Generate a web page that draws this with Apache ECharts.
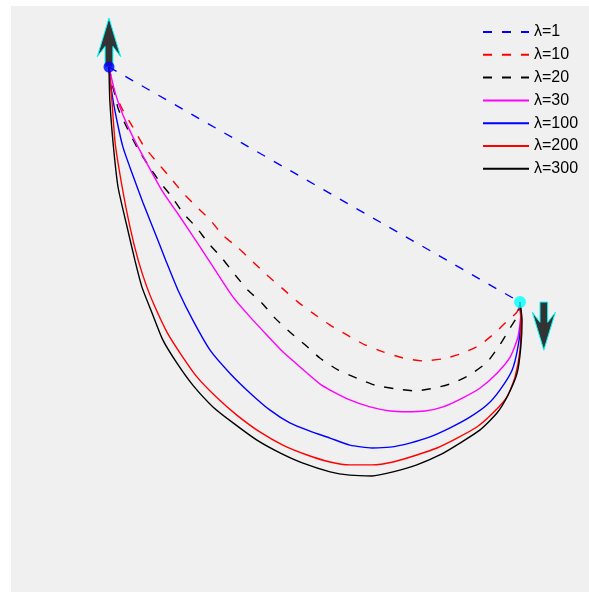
<!DOCTYPE html>
<html>
<head>
<meta charset="utf-8">
<script src="https://cdn.jsdelivr.net/npm/echarts@6/dist/echarts.min.js"></script>
<style>
  html, body { margin: 0; padding: 0; background: #ffffff; }
  #chart { width: 589px; height: 592px; }
</style>
</head>
<body>
<div id="chart"></div>
<script>
// Trajectories from the start point (0,0) to the end point (1,-0.572) for several weights λ.
const lambdaLabels = ['λ=1', 'λ=10', 'λ=20', 'λ=30', 'λ=100', 'λ=200', 'λ=300'];

const startPoint = [0, 0];
const endPoint = [1, -0.572];

const path1 = [[0, 0], [1, -0.572]];

const path10 = [[0, 0], [0.010, -0.052], [0.031, -0.100], [0.058, -0.146], [0.083, -0.190], [0.112, -0.226],
  [0.144, -0.263], [0.178, -0.304], [0.209, -0.336], [0.246, -0.372], [0.277, -0.409], [0.314, -0.440],
  [0.350, -0.474], [0.384, -0.506], [0.421, -0.538], [0.460, -0.572], [0.496, -0.599], [0.538, -0.628],
  [0.579, -0.652], [0.623, -0.676], [0.667, -0.693], [0.715, -0.708], [0.764, -0.715], [0.813, -0.710],
  [0.861, -0.696], [0.903, -0.676], [0.939, -0.647], [0.971, -0.616], [0.993, -0.596], [1, -0.572]];

const path20 = [[0, 0], [0.022, -0.100], [0.044, -0.148], [0.068, -0.195], [0.095, -0.238], [0.124, -0.280],
  [0.153, -0.316], [0.180, -0.355], [0.214, -0.392], [0.241, -0.428], [0.275, -0.465], [0.307, -0.506],
  [0.338, -0.543], [0.372, -0.574], [0.404, -0.611], [0.440, -0.645], [0.477, -0.676], [0.513, -0.708],
  [0.557, -0.737], [0.603, -0.757], [0.647, -0.774], [0.696, -0.783], [0.745, -0.788], [0.793, -0.781],
  [0.837, -0.769], [0.878, -0.749], [0.920, -0.718], [0.951, -0.676], [0.976, -0.635], [0.995, -0.603], [1, -0.572]];

const path30 = [[0, 0], [0.015, -0.063], [0.034, -0.117], [0.058, -0.170], [0.092, -0.234], [0.131, -0.304],
  [0.173, -0.365], [0.214, -0.426], [0.255, -0.489], [0.302, -0.560], [0.343, -0.608], [0.384, -0.652],
  [0.423, -0.693], [0.465, -0.730], [0.513, -0.771], [0.538, -0.786], [0.586, -0.810], [0.635, -0.827],
  [0.684, -0.837], [0.725, -0.839], [0.769, -0.837], [0.813, -0.827], [0.861, -0.805], [0.903, -0.781],
  [0.944, -0.745], [0.976, -0.706], [0.995, -0.657], [1.002, -0.599], [1, -0.572]];

const path100 = [[0, 0], [0.007, -0.063], [0.019, -0.129], [0.034, -0.195], [0.056, -0.258], [0.083, -0.331],
  [0.112, -0.404], [0.138, -0.470], [0.168, -0.543], [0.204, -0.616], [0.246, -0.689], [0.294, -0.745],
  [0.343, -0.793], [0.392, -0.835], [0.440, -0.866], [0.489, -0.886], [0.538, -0.903], [0.586, -0.920],
  [0.640, -0.927], [0.684, -0.925], [0.732, -0.915], [0.781, -0.900], [0.830, -0.878], [0.878, -0.852],
  [0.920, -0.822], [0.951, -0.786], [0.981, -0.737], [0.995, -0.681], [1.002, -0.616], [1, -0.572]];

const path200 = [[0, 0], [0.007, -0.080], [0.015, -0.185], [0.032, -0.292], [0.051, -0.389], [0.071, -0.470],
  [0.092, -0.535], [0.112, -0.584], [0.141, -0.645], [0.173, -0.696], [0.214, -0.754], [0.263, -0.805],
  [0.311, -0.847], [0.367, -0.888], [0.423, -0.920], [0.482, -0.944], [0.538, -0.961], [0.586, -0.968],
  [0.640, -0.968], [0.691, -0.961], [0.749, -0.944], [0.798, -0.927], [0.847, -0.903], [0.895, -0.876],
  [0.934, -0.842], [0.968, -0.803], [0.988, -0.754], [1.000, -0.689], [1.002, -0.623], [1, -0.572]];

const path300 = [[0, 0], [0.002, -0.080], [0.010, -0.185], [0.022, -0.292], [0.044, -0.389], [0.063, -0.470],
  [0.080, -0.535], [0.105, -0.599], [0.131, -0.664], [0.165, -0.720], [0.204, -0.774], [0.253, -0.827],
  [0.302, -0.866], [0.360, -0.908], [0.416, -0.939], [0.472, -0.964], [0.538, -0.985], [0.586, -0.993],
  [0.640, -0.995], [0.691, -0.985], [0.749, -0.968], [0.805, -0.944], [0.854, -0.915], [0.903, -0.883],
  [0.944, -0.842], [0.971, -0.798], [0.993, -0.745], [1.002, -0.681], [1.005, -0.616], [1, -0.572]];

// Direction arrows: [tailX, tailY, dx, dy]
const startArrow = [0, 0, 0, 0.119];
const endArrow = [1.058, -0.572, 0, -0.117];

const paths = [path1, path10, path20, path30, path100, path200, path300];
const colors = ['#0000ff', '#ff0000', '#000000', '#ff00ff', '#0000ff', '#ff0000', '#000000'];
const dashed = [true, true, true, false, false, false, false];

const chart = echarts.init(document.getElementById('chart'), null, { renderer: 'canvas' });

function renderArrow(params, api) {
  const x0 = api.value(0), y0 = api.value(1), dx = api.value(2), dy = api.value(3);
  const p0 = api.coord([x0, y0]);
  const p1 = api.coord([x0 + dx, y0 + dy]);
  const vx = p1[0] - p0[0], vy = p1[1] - p0[1];
  const len = Math.sqrt(vx * vx + vy * vy);
  const ux = vx / len, uy = vy / len;
  const nx = -uy, ny = ux;
  const sw = 0.08 * len;      // half shaft width
  const hw = 0.24 * len;      // half head width
  const barb = 0.79 * len;    // tip to barb distance
  const notch = 0.58 * len;   // tip to notch distance
  const pt = (d, w) => [p1[0] - ux * d + nx * w, p1[1] - uy * d + ny * w];
  const points = [
    [p1[0], p1[1]],
    pt(barb, hw),
    pt(notch, sw),
    [p0[0] + nx * sw, p0[1] + ny * sw],
    [p0[0] - nx * sw, p0[1] - ny * sw],
    pt(notch, -sw),
    pt(barb, -hw)
  ];
  return {
    type: 'polygon',
    shape: { points: points },
    style: { fill: '#333333', stroke: '#00ffff', lineWidth: 1 }
  };
}

const lineSeries = paths.map((p, i) => ({
  name: lambdaLabels[i],
  type: 'line',
  data: p,
  symbol: 'none',
  smooth: 0.2,
  z: 3,
  lineStyle: { color: colors[i], width: 1.4, type: dashed[i] ? [9, 10] : 'solid' },
  itemStyle: { color: colors[i] }
}));

chart.setOption({
  animation: false,
  backgroundColor: '#ffffff',
  grid: {
    left: 11, right: 0, top: 6, bottom: 0,
    show: true, backgroundColor: '#f0f0f0', borderWidth: 0
  },
  xAxis: { type: 'value', min: -0.2384, max: 1.1679, show: false, splitLine: { show: false } },
  yAxis: { type: 'value', min: -1.2774, max: 0.1484, show: false, splitLine: { show: false } },
  legend: {
    data: lambdaLabels,
    orient: 'vertical',
    left: 482, top: 24,
    padding: 0,
    itemWidth: 46, itemHeight: 14, itemGap: 6.8,
    itemStyle: { opacity: 0 },
    textStyle: { color: '#000000', fontSize: 16, lineHeight: 14, fontFamily: 'Liberation Sans, Arial, sans-serif' }
  },
  series: [
    {
      type: 'custom',
      renderItem: renderArrow,
      data: [startArrow, endArrow],
      z: 2,
      silent: true
    },
    ...lineSeries,
    {
      type: 'scatter',
      data: [startPoint],
      symbol: 'circle', symbolSize: 11,
      itemStyle: { color: '#0000ff' },
      z: 5
    },
    {
      type: 'scatter',
      data: [endPoint],
      symbol: 'circle', symbolSize: 12,
      itemStyle: { color: '#00ffff' },
      z: 5
    }
  ]
});
</script>
</body>
</html>
